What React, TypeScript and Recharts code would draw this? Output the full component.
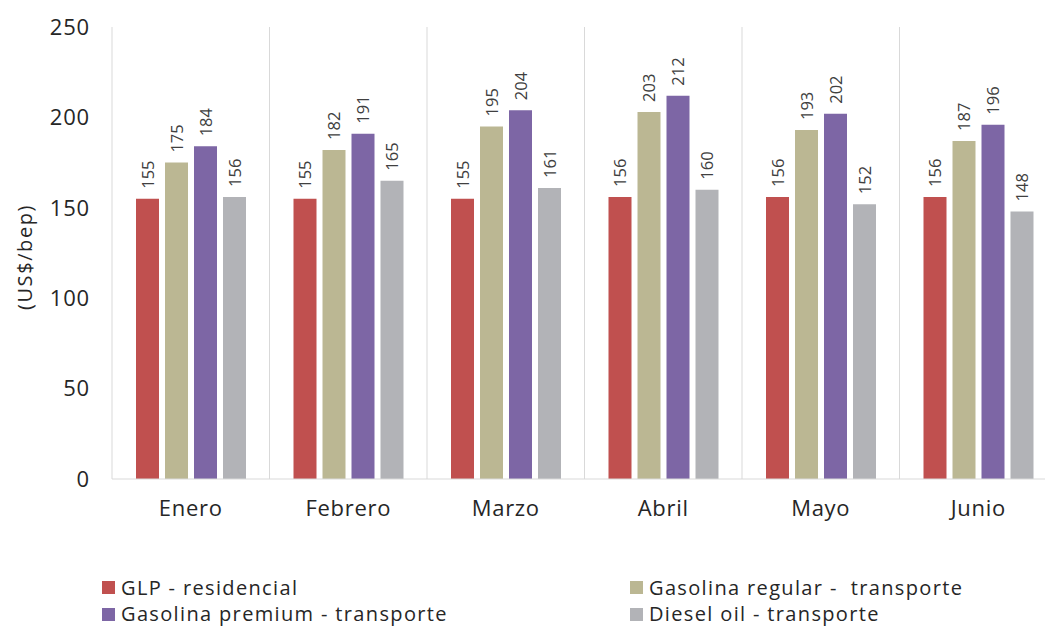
import { BarChart, Bar, XAxis, YAxis, CartesianGrid, LabelList } from "recharts";

const months = ["Enero", "Febrero", "Marzo", "Abril", "Mayo", "Junio"];
const glp = [155, 155, 155, 156, 156, 156];
const gasRegular = [175, 182, 195, 203, 193, 187];
const gasPremium = [184, 191, 204, 212, 202, 196];
const diesel = [156, 165, 161, 160, 152, 148];
const yTicks = [0, 50, 100, 150, 200, 250];

const series = [
  { key: "glp", name: "GLP - residencial", color: "#C0504F", values: glp },
  { key: "gasRegular", name: "Gasolina regular -  transporte", color: "#BBB793", values: gasRegular },
  { key: "gasPremium", name: "Gasolina premium - transporte", color: "#7D66A5", values: gasPremium },
  { key: "diesel", name: "Diesel oil - transporte", color: "#B2B3B7", values: diesel },
];

const data = months.map((m, i) => {
  const row: Record<string, string | number> = { month: m };
  series.forEach(s => (row[s.key] = s.values[i]));
  return row;
});

const FONT = "'Open Sans', Lato, sans-serif";

function RotatedLabel(props: any) {
  const { x, y, width, value } = props;
  const cx = x + width / 2;
  const cy = y - 10;
  return (
    <text
      x={cx}
      y={cy}
      transform={`rotate(-90, ${cx}, ${cy})`}
      textAnchor="start"
      dominantBaseline="central"
      fontSize={16.5}
      fill="#404040"
      fontFamily={FONT}
    >
      {value}
    </text>
  );
}

function YLabel(props: any) {
  const { viewBox } = props;
  const x = viewBox.x + 24;
  const y = viewBox.y + viewBox.height / 2 + 4;
  return (
    <text
      x={x}
      y={y}
      transform={`rotate(-90, ${x}, ${y})`}
      textAnchor="middle"
      dominantBaseline="central"
      fontSize={20}
      letterSpacing={1.6}
      fill="#262626"
      fontFamily={FONT}
    >
      (US$/bep)
    </text>
  );
}

export default function App() {
  const legendRows = [
    [series[0], series[1]],
    [series[2], series[3]],
  ];
  const colX = [102, 630];

  return (
    <div style={{ position: "absolute", left: 0, top: 0, width: 1045, height: 628, overflow: "hidden", background: "#fff", fontFamily: FONT }}>
      <BarChart
        width={1060}
        height={628}
        data={data}
        margin={{ top: 27, right: 3, left: 0, bottom: 109 }}
        barGap={6}
        barCategoryGap={24}
      >
        <CartesianGrid
          horizontal={false}
          stroke="#d9d9d9"
          verticalCoordinatesGenerator={({ offset }: any) =>
            months.map((_m, i) => offset.left + (i * offset.width) / months.length).concat(offset.left + offset.width)
          }
        />
        <XAxis
          dataKey="month"
          axisLine={{ stroke: "#d9d9d9" }}
          tickLine={false}
          tickSize={0}
          tickMargin={21}
          height={40}
          tick={{ fontSize: 22, fill: "#262626", fontFamily: FONT, letterSpacing: 0.7 }}
        />
        <YAxis
          width={112}
          domain={[0, 250]}
          ticks={yTicks}
          axisLine={false}
          tickLine={false}
          tickSize={0}
          tickMargin={22}
          tick={{ fontSize: 22, fill: "#262626", fontFamily: FONT, letterSpacing: 0.8 }}
          label={<YLabel />}
        />
        {series.map(s => (
          <Bar key={s.key} dataKey={s.key} name={s.name} fill={s.color} isAnimationActive={false}>
            <LabelList dataKey={s.key} content={<RotatedLabel />} />
          </Bar>
        ))}
      </BarChart>
      {legendRows.map((row, r) =>
        row.map((s, c) => (
          <div
            key={s.key}
            style={{
              position: "absolute",
              left: colX[c],
              top: 587.5 + r * 26.5 - 11,
              height: 22,
              lineHeight: "22px",
              display: "flex",
              alignItems: "center",
              fontSize: 20,
              letterSpacing: 1.35,
              color: "#262626",
              whiteSpace: "pre",
            }}
          >
            <span style={{ display: "inline-block", width: 13, height: 13, background: s.color, marginRight: 6 }} />
            {s.name}
          </div>
        ))
      )}
    </div>
  );
}
